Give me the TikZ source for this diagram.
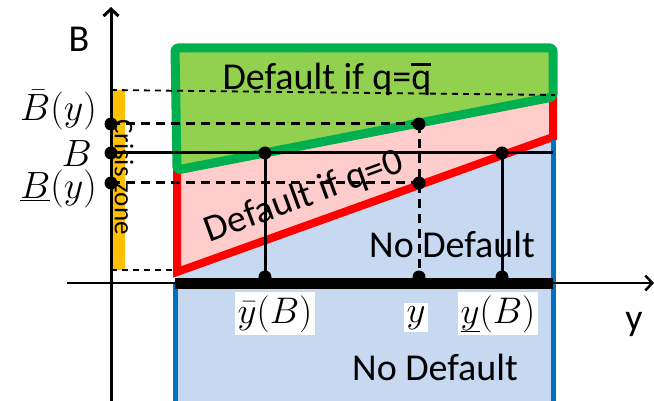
\documentclass[tikz,border=0pt]{standalone}
\usepackage{fix-cm}
\usepackage{fontspec}
\setsansfont{Carlito}
\usetikzlibrary{arrows.meta}
\definecolor{gfill}{HTML}{92D050}
\definecolor{gline}{HTML}{00B050}
\definecolor{pinkfill}{HTML}{FFCCCC}
\definecolor{redline}{HTML}{FF0000}
\definecolor{bluefill}{HTML}{C6D9F1}
\definecolor{blueline}{HTML}{0070C0}
\definecolor{yellowbar}{HTML}{FFC000}
\begin{document}
\begin{tikzpicture}[x=1pt,y=-1pt,
  sanslab/.style={font=\sffamily\fontsize{38}{42}\selectfont, inner sep=0pt},
  mathlab/.style={font=\fontsize{38}{42}\selectfont, inner sep=0pt},
  ticklab/.style={font=\fontsize{37}{40}\selectfont, inner sep=3pt, fill=white, anchor=base},
  bigdot/.style={circle, fill=black, inner sep=0pt, minimum size=13pt},
  solidln/.style={line width=3pt},
  dashln/.style={line width=3pt, dash pattern=on 9pt off 6pt},
  thindash/.style={line width=1.8pt, dash pattern=on 6pt off 5pt},
  axisln/.style={line width=3pt}]
\useasboundingbox (0,0) rectangle (654,401);

% coordinates
\coordinate (gTL) at (175,48);
\coordinate (gTR) at (553,48);
\coordinate (gBR) at (553,97);
\coordinate (gBL) at (177,170);
\coordinate (rBL) at (177,272);
\coordinate (rBR) at (553,137);
\coordinate (bBL) at (175,401);
\coordinate (bBR) at (553,401);
\coordinate (bTL) at (175,283);
\coordinate (bTR) at (553,140);

% blue region
\fill[bluefill] (rBL) -- (rBR) -- (bBR) -- (bBL) -- cycle;
% red region
\filldraw[fill=pinkfill, draw=redline, line width=8pt, line join=miter] (rBL) -- (gBL) -- (gBR) -- (rBR) -- cycle;
% green region
\filldraw[fill=gfill, draw=gline, line width=9pt, line join=round, rounded corners=3pt] (gTL) -- (gTR) -- (gBR) -- (gBL) -- cycle;
% blue borders
\draw[blueline, line width=5pt] (bTL) -- (bBL);
\draw[blueline, line width=5pt] (bTR) -- (bBR);

% crisis zone bar
\fill[yellowbar] (112,90) rectangle (125,270);

% axes
\coordinate (yaxB) at (111,401);
\coordinate (yaxT) at (111,7);
\coordinate (xaxL) at (67,283);
\coordinate (xaxR) at (654,283);
\draw[axisln, -{Straight Barb[length=7pt,width=15pt]}] (yaxB) -- (yaxT);
\draw[line width=2.5pt, -{Straight Barb[length=7pt,width=15pt]}] (xaxL) -- (xaxR);

% guide lines
\coordinate (d1L) at (111,90);
\coordinate (d1R) at (555,95);
\coordinate (d4L) at (111,270);
\coordinate (d4R) at (177,270);
\draw[thindash] (d1L) -- (d1R);
\draw[thindash] (d4L) -- (d4R);

% dots
\node[bigdot] (aBbar) at (111,124) {};
\node[bigdot] (aB) at (111,153) {};
\node[bigdot] (aBund) at (111,183) {};
\node[bigdot] (pL) at (265,153) {};
\node[bigdot] (pTop) at (419,124) {};
\node[bigdot] (pMid) at (419,183) {};
\node[bigdot] (pR) at (502,153) {};
\node[bigdot] (xL) at (265,277) {};
\node[bigdot] (xM) at (419,277) {};
\node[bigdot] (xR) at (502,277) {};
\coordinate (bEnd) at (553,153);

\draw[dashln] (aBbar.center) -- (pTop.center);
\draw[dashln] (aBund.center) -- (pMid.center);
\draw[dashln] (pTop.center) -- (xM.center);
\draw[solidln] (aB.center) -- (bEnd);
\draw[solidln] (pL.center) -- (xL.center);
\draw[solidln] (pR.center) -- (xR.center);

% thick bar on y axis
\coordinate (barL) at (175,283);
\coordinate (barR) at (553,283);
\draw[line width=11pt] (barL) -- (barR);

% region texts
\node[sanslab, anchor=base] (tGreen) at (327,90) {Default if q=q\llap{\rule[0.62em]{0.525em}{0.08em}}};
\node[sanslab, rotate=20] (tRed) at (304,197) {Default if q=0};
\node[sanslab] (tNo1) at (452,244) {No Default};
\node[sanslab] (tNo2) at (435,367) {No Default};
\node[font=\sffamily\fontsize{27}{30}\selectfont, inner sep=0pt, rotate=-90] (tCrisis) at (124,177) {Crisis zone};

% axis labels
\node[sanslab] (lblB) at (79,39) {B};
\node[sanslab, anchor=base] (lbly) at (634,330) {y};

\node[mathlab, anchor=base east] (lBbar) at (97,121) {$\bar B(y)$};
\node[mathlab, anchor=base east] (lB) at (92,167) {$B$};
\node[mathlab, anchor=base east] (lBund) at (97,199) {$\underline{B}(y)$};

\node[ticklab] (lyL) at (275,323) {$\bar y(B)$};
\node[ticklab] (lyM) at (416,322) {$y$};
\node[ticklab] (lyR) at (498,323) {$\underline{y}(B)$};
\end{tikzpicture}
\end{document}
